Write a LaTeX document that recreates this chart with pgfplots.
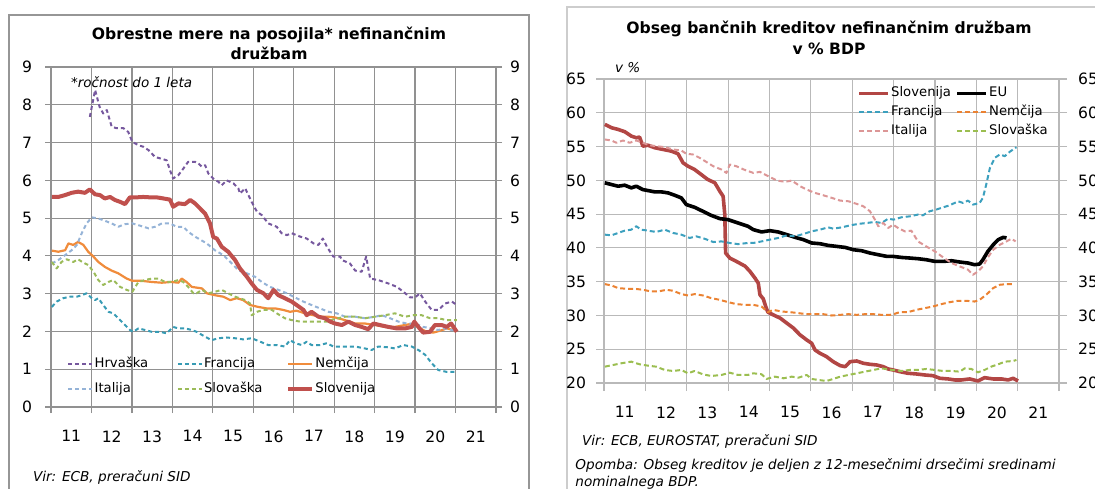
\documentclass[border=0pt]{standalone}
\usepackage{fontspec}
\setmainfont{DejaVu Sans}
\usepackage{pgfplots}
\pgfplotsset{compat=1.18}
\definecolor{gridL}{RGB}{145,145,145}
\definecolor{gridR}{RGB}{185,185,185}
\definecolor{frameL}{RGB}{150,150,150}
\definecolor{frameR}{RGB}{205,205,205}
\definecolor{cHr}{RGB}{118,88,158}
\definecolor{cFr}{RGB}{55,155,180}
\definecolor{cDe}{RGB}{240,140,60}
\definecolor{cIt}{RGB}{149,179,215}
\definecolor{cSk}{RGB}{155,187,89}
\definecolor{cSi}{RGB}{192,80,77}
\definecolor{rSi}{RGB}{178,70,68}
\definecolor{rFr}{RGB}{60,160,190}
\definecolor{rDe}{RGB}{235,130,50}
\definecolor{rIt}{RGB}{220,150,150}
\definecolor{rSk}{RGB}{155,190,80}
\begin{document}
\begin{tikzpicture}[x=1pt,y=1pt]
\path[use as bounding box] (0,0) rectangle (547.5,244);
\begin{scope}
\clip (0,0) rectangle (547.5,244);
\draw[frameL, line width=0.6pt] (4.5,-10) rectangle (264.5,236.5);
\draw[frameR, line width=0.6pt] (283.5,-10) rectangle (570,240.5);

% ---------------- LEFT CHART ----------------
\begin{axis}[
  at={(25.5pt,40.5pt)}, anchor=south west, scale only axis,
  width=222.5pt, height=170pt,
  xmin=2011, xmax=2022, ymin=0, ymax=9,
  xtick={2011,2012,2013,2014,2015,2016,2017,2018,2019,2020,2021,2022}, x tick label as interval,
  xticklabels={11,12,13,14,15,16,17,18,19,20,21},
  ytick={0,1,2,3,4,5,6,7,8,9}, ytick pos=both, xtick pos=bottom,
  grid=major, grid style={draw=gridL, line width=0.6pt},
  axis line style={draw=gridL, line width=0.6pt},
  tick style={draw=gridL, line width=0.6pt},
  tick align=outside, major tick length=3pt,
  tick label style={font=\fontsize{7.8}{9}\selectfont},
  yticklabel style={xshift=-3pt},
  xticklabel style={yshift=-5.25pt},
  /pgf/number format/assume math mode=true,
  legend columns=3,
  legend image code/.code={\draw[#1] (0pt,0pt) -- (12pt,0pt);},
  legend style={at={(rel axis cs:0.036,0.150)}, anchor=north west, draw=none, fill=none,
    inner xsep=0pt, inner ysep=0pt,
    font=\fontsize{6.6}{8}\selectfont,
    cells={anchor=west}, nodes={inner sep=0.6pt, text height=5pt, text depth=1.5pt},
    row sep=4.5pt,
    /tikz/every even column/.append style={column sep=1.5pt}},
  line join=round,
]
\addplot[cHr, line width=1pt, dash pattern=on 2pt off 1.5pt] table {
2011.96 7.68
2012.09 8.39
2012.20 7.95
2012.29 7.77
2012.38 7.86
2012.50 7.42
2012.62 7.38
2012.79 7.38
2012.91 7.28
2013.01 7.02
2013.16 6.93
2013.28 6.89
2013.41 6.80
2013.57 6.62
2013.70 6.58
2013.86 6.53
2013.94 6.27
2014.02 6.05
2014.15 6.14
2014.27 6.31
2014.39 6.49
2014.56 6.49
2014.64 6.45
2014.73 6.36
2014.81 6.40
2014.89 6.18
2015.01 6.05
2015.14 5.96
2015.22 5.87
2015.34 6.00
2015.51 5.92
2015.63 5.79
2015.67 5.65
2015.80 5.79
2015.96 5.43
2016.09 5.17
2016.21 5.08
2016.37 4.86
2016.58 4.77
2016.70 4.60
2016.83 4.55
2016.95 4.60
2017.16 4.51
2017.32 4.46
2017.49 4.33
2017.61 4.29
2017.72 4.46
2017.82 4.24
2017.98 3.98
2018.15 3.98
2018.19 3.89
2018.39 3.80
2018.52 3.61
2018.68 3.58
2018.79 3.98
2018.89 3.40
2019.09 3.36
2019.34 3.27
2019.55 3.18
2019.71 3.05
2019.88 2.90
2020.00 2.90
2020.12 3.01
2020.25 2.79
2020.41 2.57
2020.58 2.57
2020.74 2.74
2020.91 2.79
2021.03 2.70
};
\addlegendentry{\makebox[39pt][l]{Hrvaška}}
\addplot[cFr, line width=1pt, dash pattern=on 2pt off 1.5pt] table {
2011.02 2.65
2011.14 2.79
2011.30 2.88
2011.47 2.92
2011.64 2.92
2011.76 2.96
2011.88 3.01
2012.01 2.88
2012.09 2.83
2012.17 2.88
2012.29 2.70
2012.42 2.52
2012.54 2.48
2012.66 2.35
2012.83 2.17
2012.95 2.04
2013.03 1.99
2013.16 2.08
2013.32 2.04
2013.49 1.99
2013.69 1.99
2013.86 1.95
2014.02 2.12
2014.15 2.08
2014.31 2.08
2014.48 2.04
2014.60 1.99
2014.81 1.86
2014.97 1.77
2015.14 1.82
2015.34 1.84
2015.55 1.82
2015.75 1.79
2015.96 1.82
2016.17 1.73
2016.37 1.64
2016.58 1.64
2016.78 1.60
2016.91 1.77
2017.03 1.69
2017.20 1.64
2017.32 1.73
2017.44 1.64
2017.65 1.64
2017.82 1.69
2017.98 1.60
2018.27 1.60
2018.52 1.60
2018.76 1.55
2018.93 1.51
2019.09 1.60
2019.34 1.58
2019.50 1.55
2019.71 1.64
2019.92 1.60
2020.08 1.51
2020.25 1.38
2020.41 1.16
2020.57 0.98
2020.78 0.93
2021.03 0.93
};
\addlegendentry{\makebox[39pt][l]{Francija}}
\addplot[cDe, line width=1.1pt] table {
2011.02 4.14
2011.18 4.11
2011.35 4.15
2011.43 4.33
2011.55 4.29
2011.67 4.37
2011.80 4.29
2011.92 4.11
2012.05 3.98
2012.17 3.84
2012.33 3.71
2012.50 3.61
2012.66 3.54
2012.87 3.40
2013.01 3.34
2013.24 3.34
2013.49 3.31
2013.74 3.29
2013.98 3.31
2014.15 3.29
2014.23 3.40
2014.35 3.31
2014.48 3.18
2014.60 3.16
2014.73 3.14
2014.85 3.01
2015.05 2.96
2015.26 2.92
2015.43 2.83
2015.59 2.88
2015.75 2.83
2015.92 2.70
2016.12 2.65
2016.33 2.61
2016.54 2.61
2016.74 2.57
2016.91 2.52
2017.07 2.55
2017.28 2.48
2017.48 2.43
2017.69 2.39
2017.86 2.39
2018.02 2.37
2018.27 2.30
2018.52 2.21
2018.76 2.21
2019.01 2.17
2019.26 2.12
2019.50 2.12
2019.75 2.17
2019.96 2.21
2020.12 2.08
2020.29 1.99
2020.45 1.97
2020.62 2.02
2020.78 2.08
2020.95 2.04
2021.03 2.02
};
\addlegendentry{\makebox[39pt][l]{Nemčija}}
\addplot[cIt, line width=1pt, dash pattern=on 2pt off 1.5pt] table {
2011.02 3.80
2011.18 3.89
2011.35 4.02
2011.51 4.15
2011.64 4.29
2011.76 4.60
2011.88 4.86
2012.01 5.02
2012.17 4.99
2012.33 4.93
2012.50 4.86
2012.66 4.77
2012.83 4.84
2013.01 4.86
2013.20 4.80
2013.41 4.73
2013.57 4.77
2013.74 4.86
2013.94 4.86
2014.11 4.77
2014.27 4.77
2014.39 4.64
2014.56 4.51
2014.85 4.33
2015.05 4.15
2015.26 4.02
2015.47 3.80
2015.63 3.62
2015.84 3.54
2016.04 3.45
2016.21 3.31
2016.41 3.18
2016.62 3.10
2016.83 3.01
2017.03 2.90
2017.24 2.79
2017.44 2.70
2017.65 2.61
2017.86 2.52
2018.06 2.48
2018.27 2.39
2018.52 2.39
2018.76 2.35
2019.01 2.39
2019.18 2.43
2019.38 2.35
2019.59 2.26
2019.79 2.21
2020.00 2.21
2020.20 2.12
2020.41 2.08
2020.57 2.04
2020.74 2.08
2020.91 2.04
2021.03 2.04
};
\addlegendentry{\makebox[39pt][l]{Italija}}
\addplot[cSk, line width=1pt, dash pattern=on 2pt off 1.5pt] table {
2011.02 3.84
2011.14 3.67
2011.26 3.84
2011.39 3.91
2011.55 3.84
2011.67 3.91
2011.80 3.82
2011.92 3.76
2012.05 3.58
2012.17 3.36
2012.29 3.23
2012.42 3.31
2012.54 3.36
2012.71 3.18
2012.87 3.10
2013.01 3.05
2013.16 3.31
2013.32 3.36
2013.49 3.40
2013.65 3.40
2013.82 3.31
2013.98 3.31
2014.15 3.36
2014.27 3.31
2014.39 3.18
2014.52 3.01
2014.60 3.01
2014.73 3.10
2014.89 3.01
2015.05 3.05
2015.22 3.10
2015.38 3.01
2015.55 2.92
2015.80 2.83
2015.92 2.74
2015.96 2.43
2016.09 2.52
2016.25 2.57
2016.46 2.57
2016.58 2.48
2016.78 2.35
2016.95 2.30
2017.16 2.26
2017.40 2.26
2017.61 2.26
2017.82 2.26
2017.98 2.32
2018.27 2.39
2018.52 2.39
2018.76 2.35
2019.01 2.39
2019.26 2.43
2019.50 2.48
2019.75 2.39
2019.96 2.43
2020.16 2.43
2020.37 2.35
2020.57 2.35
2020.78 2.30
2021.03 2.30
};
\addlegendentry{\makebox[39pt][l]{Slovaška}}
\addplot[cSi, line width=2pt] table {
2011.02 5.56
2011.18 5.56
2011.35 5.61
2011.51 5.67
2011.67 5.70
2011.84 5.67
2011.96 5.76
2012.09 5.63
2012.21 5.61
2012.33 5.52
2012.46 5.56
2012.58 5.48
2012.71 5.43
2012.83 5.37
2012.95 5.55
2013.12 5.55
2013.28 5.56
2013.45 5.55
2013.61 5.55
2013.78 5.52
2013.94 5.49
2014.02 5.30
2014.15 5.39
2014.31 5.37
2014.44 5.48
2014.56 5.39
2014.68 5.26
2014.81 5.12
2014.93 4.86
2015.01 4.50
2015.10 4.46
2015.22 4.24
2015.38 4.11
2015.55 3.89
2015.67 3.67
2015.84 3.45
2015.96 3.27
2016.09 3.10
2016.25 3.01
2016.37 2.88
2016.50 3.10
2016.62 2.96
2016.78 2.88
2016.95 2.79
2017.07 2.70
2017.24 2.57
2017.32 2.43
2017.44 2.52
2017.61 2.39
2017.77 2.35
2017.90 2.26
2018.02 2.21
2018.19 2.17
2018.35 2.26
2018.52 2.17
2018.68 2.12
2018.84 2.06
2018.97 2.21
2019.13 2.17
2019.34 2.12
2019.55 2.08
2019.75 2.08
2019.92 2.12
2019.98 2.26
2020.08 2.12
2020.20 1.97
2020.37 1.99
2020.49 2.17
2020.66 2.17
2020.78 2.12
2020.89 2.21
2020.95 2.12
2021.03 1.99
};
\addlegendentry{\makebox[39pt][l]{Slovenija}}
\end{axis}
\begin{axis}[
  at={(25.5pt,40.5pt)}, anchor=south west, scale only axis,
  width=222.5pt, height=170pt,
  xmin=2011, xmax=2022, ymin=0, ymax=9,
  hide x axis, axis y line*=right, y axis line style={draw=none},
  ytick={0,1,2,3,4,5,6,7,8,9}, ytick style={draw=none}, major tick length=0pt,
  tick label style={font=\fontsize{7.8}{9}\selectfont},
  yticklabel style={anchor=west, xshift=3.5pt},
  /pgf/number format/assume math mode=true,
]
\addplot[draw=none] coordinates {(2011,0)};
\end{axis}

% ---------------- RIGHT CHART ----------------
\begin{axis}[
  at={(302pt,52.5pt)}, anchor=south west, scale only axis,
  width=227.5pt, height=152pt,
  xmin=2011, xmax=2022, ymin=20, ymax=65,
  xtick={2011,2012,2013,2014,2015,2016,2017,2018,2019,2020,2021,2022}, x tick label as interval,
  xticklabels={11,12,13,14,15,16,17,18,19,20,21},
  ytick={20,25,30,35,40,45,50,55,60,65}, ytick pos=both, xtick pos=bottom,
  grid=major, grid style={draw=gridR, line width=0.6pt},
  axis line style={draw=gridR, line width=0.6pt},
  tick style={draw=gridR, line width=0.6pt},
  tick align=outside, major tick length=4pt,
  tick label style={font=\fontsize{7.8}{9}\selectfont},
  yticklabel style={xshift=-1.5pt},
  xticklabel style={yshift=-4.25pt},
  /pgf/number format/assume math mode=true,
  legend columns=2,
  legend image code/.code={\draw[#1] (0pt,0pt) -- (14.5pt,0pt);},
  legend style={at={(rel axis cs:0.556,0.979)}, anchor=north west, draw=none, fill=none,
    inner xsep=0pt, inner ysep=0pt,
    font=\fontsize{6.6}{8}\selectfont,
    cells={anchor=west}, nodes={inner sep=0.6pt, text height=5pt, text depth=1.5pt},
    row sep=1.75pt,
    /tikz/every even column/.append style={column sep=0.5pt}},
  line join=round,
]
\addplot[rSi, line width=1.8pt] table {
2011.02 58.28
2011.18 57.79
2011.34 57.54
2011.50 57.20
2011.66 56.55
2011.78 56.30
2011.86 56.40
2011.94 55.06
2012.06 55.20
2012.23 54.82
2012.43 54.57
2012.63 54.32
2012.79 53.93
2012.91 52.60
2013.03 52.09
2013.19 51.60
2013.35 50.86
2013.51 50.12
2013.68 49.63
2013.80 48.38
2013.88 47.64
2013.92 44.93
2013.94 39.24
2014.04 38.50
2014.20 38.00
2014.41 37.30
2014.53 36.51
2014.65 35.53
2014.73 34.78
2014.77 33.06
2014.85 32.46
2014.91 31.32
2014.96 30.49
2015.09 30.09
2015.26 29.60
2015.42 28.86
2015.58 28.12
2015.74 27.12
2015.90 26.38
2016.02 25.89
2016.10 24.90
2016.22 24.41
2016.38 23.90
2016.54 23.16
2016.71 22.57
2016.83 22.42
2016.95 23.16
2017.11 23.26
2017.27 22.92
2017.43 22.77
2017.59 22.67
2017.75 22.42
2017.87 22.08
2017.99 21.93
2018.15 21.68
2018.35 21.44
2018.55 21.34
2018.75 21.19
2018.95 21.09
2019.12 20.70
2019.32 20.60
2019.48 20.45
2019.64 20.45
2019.84 20.60
2020.04 20.30
2020.20 20.79
2020.41 20.60
2020.61 20.60
2020.77 20.45
2020.89 20.70
2021.01 20.30
};
\addlegendentry{\makebox[31pt][l]{Slovenija}}
\addplot[black, line width=1.8pt] table {
2011.02 49.63
2011.18 49.38
2011.34 49.13
2011.50 49.28
2011.66 48.89
2011.78 49.13
2011.94 48.63
2012.06 48.49
2012.23 48.29
2012.39 48.29
2012.55 48.14
2012.71 47.79
2012.87 47.40
2012.99 46.41
2013.19 46.01
2013.39 45.42
2013.59 44.82
2013.80 44.33
2014.00 44.18
2014.24 43.69
2014.48 43.20
2014.61 42.70
2014.81 42.36
2015.01 42.55
2015.21 42.36
2015.42 41.96
2015.62 41.56
2015.82 41.22
2016.02 40.73
2016.22 40.62
2016.42 40.37
2016.63 40.22
2016.83 40.07
2017.03 39.73
2017.23 39.58
2017.43 39.24
2017.63 38.99
2017.84 38.74
2017.99 38.74
2018.19 38.59
2018.39 38.50
2018.59 38.40
2018.79 38.25
2019.00 38.00
2019.20 38.00
2019.40 38.10
2019.60 37.91
2019.80 37.76
2019.96 37.51
2020.08 37.61
2020.16 38.25
2020.28 39.48
2020.41 40.47
2020.53 41.22
2020.65 41.56
2020.73 41.47
};
\addlegendentry{\makebox[31pt][l]{EU}}
\addplot[rFr, line width=1pt, dash pattern=on 2.5pt off 1.5pt] table {
2011.02 41.96
2011.18 41.86
2011.34 42.21
2011.50 42.55
2011.66 42.70
2011.78 43.20
2011.90 42.70
2012.06 42.55
2012.26 42.36
2012.47 42.70
2012.67 42.21
2012.87 41.96
2013.07 41.47
2013.23 41.71
2013.43 41.36
2013.64 40.87
2013.84 40.96
2014.04 40.73
2014.24 40.56
2014.48 40.73
2014.61 40.73
2014.81 40.96
2015.01 41.22
2015.21 41.47
2015.42 41.86
2015.62 41.71
2015.82 42.06
2016.02 42.45
2016.22 42.70
2016.42 43.04
2016.54 42.85
2016.75 43.04
2016.95 43.34
2017.15 43.55
2017.35 43.69
2017.55 43.84
2017.71 43.69
2017.87 44.33
2018.00 44.18
2018.19 44.53
2018.39 44.67
2018.59 44.93
2018.71 44.82
2018.87 45.42
2019.03 45.67
2019.20 46.01
2019.36 46.31
2019.56 46.90
2019.68 46.65
2019.80 47.00
2019.92 46.41
2020.08 46.65
2020.16 47.40
2020.24 49.38
2020.33 51.85
2020.45 53.34
2020.57 53.83
2020.69 53.58
2020.81 54.23
2020.97 54.91
};
\addlegendentry{\makebox[31pt][l]{Francija}}
\addplot[rDe, line width=1pt, dash pattern=on 2.5pt off 1.5pt] table {
2011.02 34.64
2011.18 34.44
2011.34 34.05
2011.54 33.95
2011.74 33.95
2011.94 33.80
2012.14 33.55
2012.31 33.55
2012.51 33.80
2012.67 33.65
2012.87 33.16
2013.03 32.96
2013.19 33.16
2013.39 32.96
2013.59 32.57
2013.80 32.31
2014.00 31.97
2014.20 31.68
2014.40 31.57
2014.61 31.57
2014.81 31.32
2014.96 30.49
2015.09 30.83
2015.30 30.58
2015.50 30.49
2015.70 30.34
2015.90 30.19
2016.10 30.19
2016.30 30.19
2016.51 29.99
2016.71 30.09
2016.91 30.19
2017.11 30.09
2017.31 30.19
2017.51 30.19
2017.71 30.09
2017.91 30.09
2018.00 30.19
2018.15 30.49
2018.35 30.49
2018.55 30.83
2018.75 31.08
2018.95 31.32
2019.16 31.68
2019.36 31.97
2019.56 32.17
2019.76 32.17
2019.96 32.06
2020.08 32.31
2020.24 33.06
2020.41 34.05
2020.57 34.54
2020.73 34.64
2020.93 34.64
};
\addlegendentry{\makebox[31pt][l]{Nemčija}}
\addplot[rIt, line width=1pt, dash pattern=on 2.5pt off 1.5pt] table {
2011.02 56.05
2011.18 55.90
2011.30 55.56
2011.46 55.90
2011.62 55.56
2011.78 55.90
2011.94 55.56
2012.10 55.20
2012.26 55.06
2012.47 54.91
2012.67 54.57
2012.87 54.42
2012.99 53.93
2013.15 53.83
2013.31 53.34
2013.47 52.74
2013.64 52.09
2013.84 51.60
2013.96 51.10
2014.04 52.34
2014.20 52.09
2014.38 51.60
2014.61 51.10
2014.77 51.25
2014.97 50.61
2015.18 49.97
2015.38 49.78
2015.54 49.97
2015.74 49.13
2015.90 48.63
2016.10 48.14
2016.30 47.79
2016.51 47.40
2016.71 47.00
2016.91 46.90
2017.11 46.51
2017.27 46.16
2017.43 45.42
2017.55 44.18
2017.63 43.20
2017.75 43.69
2017.87 42.95
2017.99 43.44
2018.11 42.95
2018.27 42.45
2018.43 42.55
2018.59 40.96
2018.79 40.22
2019.00 39.48
2019.20 38.59
2019.40 37.76
2019.60 37.26
2019.80 36.77
2019.92 36.02
2020.04 36.51
2020.16 37.26
2020.28 38.59
2020.41 39.73
2020.57 40.47
2020.73 40.96
2020.85 41.36
2020.95 40.96
};
\addlegendentry{\makebox[31pt][l]{Italija}}
\addplot[rSk, line width=1pt, dash pattern=on 2.5pt off 1.5pt] table {
2011.02 22.42
2011.22 22.67
2011.42 22.92
2011.66 23.16
2011.86 22.77
2012.06 22.57
2012.26 22.42
2012.47 21.93
2012.67 21.78
2012.87 21.93
2013.03 21.44
2013.19 21.78
2013.39 21.29
2013.59 21.04
2013.84 21.19
2014.04 21.53
2014.24 21.19
2014.48 21.19
2014.61 21.44
2014.81 21.29
2014.93 20.60
2015.13 20.94
2015.34 20.70
2015.54 20.94
2015.70 20.79
2015.90 21.19
2016.02 20.60
2016.18 20.45
2016.38 20.30
2016.54 20.60
2016.71 20.94
2016.91 21.19
2017.11 21.44
2017.31 21.68
2017.51 21.93
2017.71 22.17
2017.96 21.93
2018.19 21.78
2018.39 21.93
2018.59 21.93
2018.79 22.08
2019.00 21.93
2019.20 21.78
2019.40 21.78
2019.60 21.68
2019.72 22.17
2019.88 22.08
2020.04 21.58
2020.20 21.93
2020.36 22.42
2020.53 22.77
2020.69 23.16
2020.89 23.26
2020.97 23.41
};
\addlegendentry{\makebox[31pt][l]{Slovaška}}
\end{axis}
\begin{axis}[
  at={(302pt,52.5pt)}, anchor=south west, scale only axis,
  width=227.5pt, height=152pt,
  xmin=2011, xmax=2022, ymin=20, ymax=65,
  hide x axis, axis y line*=right, y axis line style={draw=none},
  ytick={20,25,30,35,40,45,50,55,60,65}, ytick style={draw=none}, major tick length=0pt,
  tick label style={font=\fontsize{7.8}{9}\selectfont},
  yticklabel style={anchor=west, xshift=6pt},
  /pgf/number format/assume math mode=true,
]
\addplot[draw=none] coordinates {(2011,20)};
\end{axis}

% ---------------- TEXTS ----------------
\node[align=center, font=\fontsize{7.8}{10}\selectfont\bfseries] at (134.5,222.5)
  {Obrestne mere na posojila* nefinančnim\\družbam};
\node[anchor=mid west, font=\fontsize{6.75}{8}\selectfont\itshape] at (32,203) {*ročnost do 1 leta};
\node[anchor=mid west, font=\fontsize{6.8}{8.5}\selectfont\itshape] at (13,6) {Vir: ECB, preračuni SID};

\node[align=center, font=\fontsize{7.8}{10.5}\selectfont\bfseries] at (414.5,225.3)
  {Obseg bančnih kreditov nefinančnim družbam\\v \% BDP};
\node[anchor=mid west, font=\fontsize{6.8}{8}\selectfont\itshape] at (304,210.5) {v \%};
\node[anchor=mid west, font=\fontsize{6.8}{8.5}\selectfont\itshape] at (287.5,24) {Vir: ECB, EUROSTAT, preračuni SID};
\node[anchor=north west, align=left, inner sep=0pt, font=\fontsize{6.8}{8.5}\selectfont\itshape] at (287.5,14.7)
  {Opomba: Obseg kreditov je deljen z 12-mesečnimi drsečimi sredinami\\nominalnega BDP.};
\end{scope}
\end{tikzpicture}
\end{document}
